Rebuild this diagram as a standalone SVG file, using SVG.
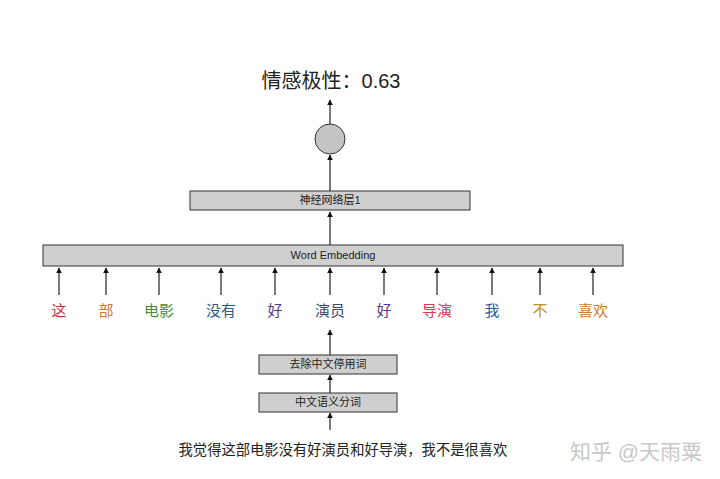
<svg xmlns="http://www.w3.org/2000/svg" width="720" height="479" viewBox="0 0 720 479">
<style>
text{font-family:"Liberation Sans","Noto Sans CJK SC",sans-serif;text-anchor:middle}
.box{fill:#cfcfcf;stroke:#333;stroke-width:1}
.bl{font-size:11px;fill:#222}
.tk{font-size:15px}
.ln{stroke:#222;stroke-width:1.2;fill:none;marker-end:url(#ah)}
</style>
<defs><marker id="ah" viewBox="0 0 10 10" refX="9" refY="5" markerWidth="6" markerHeight="8" orient="auto" markerUnits="userSpaceOnUse"><path d="M0,0L10,5L0,10z" fill="#111"/></marker></defs>
<rect width="720" height="479" fill="#fff"/>
<g id="title"><text x="331" y="88" font-size="20" fill="#222">情感极性：0.63</text></g>
<g id="circle"><circle cx="330" cy="139" r="15" fill="#c4c4c4" stroke="#333"/></g>
<g id="nn"><rect class="box" x="190" y="191" width="280" height="19"/><text class="bl" x="330" y="204">神经网络层1</text></g>
<g id="emb"><rect class="box" x="43" y="245" width="580" height="21"/><text class="bl" x="333" y="259">Word Embedding</text></g>
<g id="stop"><rect class="box" x="259" y="355" width="138" height="19"/><text class="bl" x="328" y="368">去除中文停用词</text></g>
<g id="seg"><rect class="box" x="259" y="393" width="138" height="19"/><text class="bl" x="328" y="406">中文语义分词</text></g>
<g id="tokens" class="tk">
<text x="59" y="316" fill="#b03a48">这</text>
<text x="106" y="316" fill="#d07a30">部</text>
<text x="159" y="316" fill="#4a8a30">电影</text>
<text x="221" y="316" fill="#2a5a8a">没有</text>
<text x="275" y="316" fill="#5a3a8a">好</text>
<text x="330" y="316" fill="#3a4a6a">演员</text>
<text x="384" y="316" fill="#5a3a8a">好</text>
<text x="437" y="316" fill="#d04050">导演</text>
<text x="492" y="316" fill="#2a5a9a">我</text>
<text x="540" y="316" fill="#c09020">不</text>
<text x="593" y="316" fill="#d07a30">喜欢</text>
</g>
<g id="sentence"><text x="343" y="455" font-size="14.3" fill="#222">我觉得这部电影没有好演员和好导演，我不是很喜欢</text></g>
<g id="watermark"><text x="636" y="459" font-size="21" fill="#c8c8c8">知乎 @天雨粟</text></g>
<g id="connectors">
<path class="ln" d="M330,124V100"/>
<path class="ln" d="M330,191V155"/>
<path class="ln" d="M330,245V212"/>
<path class="ln" d="M59,295V268"/><path class="ln" d="M106,295V268"/><path class="ln" d="M159,295V268"/>
<path class="ln" d="M221,295V268"/><path class="ln" d="M275,295V268"/><path class="ln" d="M330,295V268"/>
<path class="ln" d="M384,295V268"/><path class="ln" d="M437,295V268"/><path class="ln" d="M492,295V268"/>
<path class="ln" d="M540,295V268"/><path class="ln" d="M593,295V268"/>
<path class="ln" d="M330,355V330"/>
<path class="ln" d="M330,393V375"/>
<path class="ln" d="M330,430V413"/>
</g>
</svg>
